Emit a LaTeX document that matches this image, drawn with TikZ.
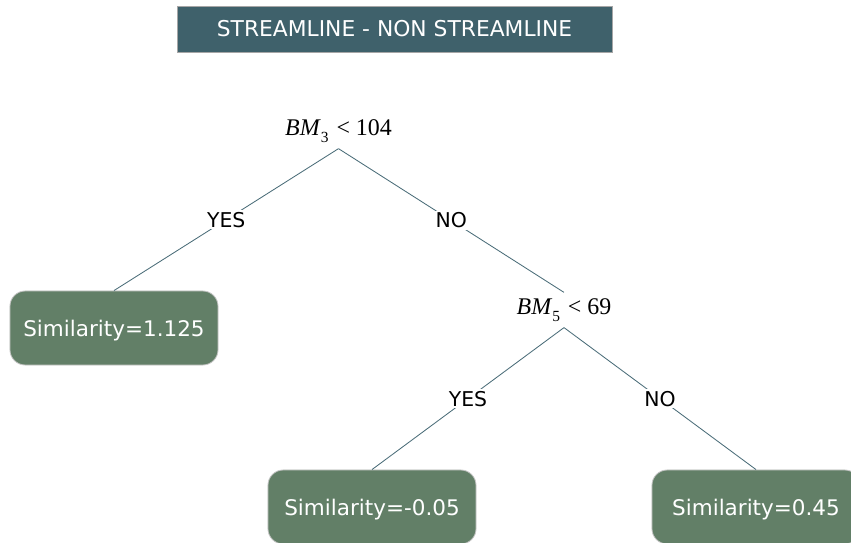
\documentclass[tikz,border=0pt]{standalone}
\usepackage{fontspec}
\setmainfont{DejaVu Sans}
\newfontfamily\tmsfont{Liberation Serif}
\usepackage{tikz}
\usetikzlibrary{positioning}
\definecolor{headblue}{HTML}{3F616B}
\definecolor{leafgreen}{HTML}{627F67}
\definecolor{edgeblue}{HTML}{4A6C78}
\tikzstyle{head}=[shape=rectangle, draw=gray!70, fill=headblue, text=white, minimum width=10.875cm, minimum height=1.15cm, font=\fontsize{15.5}{17}\selectfont]
\tikzstyle{leaf}=[shape=rectangle, rounded corners=0.38cm, draw=gray!45, fill=leafgreen, text=white, text depth=0pt, minimum width=5.2cm, minimum height=1.85cm, font=\fontsize{15.3}{17}\selectfont]
\tikzstyle{test}=[inner xsep=1.5pt, inner ysep=4.2pt, font=\fontsize{17}{19}\selectfont\tmsfont]
\tikzstyle{ans}=[fill=white, inner sep=1pt, font=\fontsize{14.5}{16}\selectfont]
\newcommand{\bmtest}[2]{\textit{BM}\raisebox{-0.6ex}{\fontsize{11}{12}\selectfont #1}\,\,< #2}

\begin{document}
\begin{tikzpicture}[x=0.025cm,y=-0.025cm,line width=0.6pt]
\clip (0,0) rectangle (851,543);

\node (title) [head] at (394.5,29) {STREAMLINE - NON STREAMLINE};

\node (bm3) [test] at (338.5,131) {\bmtest{3}{104}};
\node (bm5) [test] at (564,310) {\bmtest{5}{69}};

\node (leaf1) [leaf] at (114,328) {Similarity=1.125};
\node (leaf2) [leaf] at (372,507) {Similarity=-0.05};
\node (leaf3) [leaf] at (756,507) {Similarity=0.45};

\draw[edgeblue] (bm3.south) -- node [ans,text=black] {YES} (leaf1.north);
\draw[edgeblue] (bm3.south) -- node [ans,text=black] {NO} (bm5.north);
\draw[edgeblue] (bm5.south) -- node [ans,text=black] {YES} (leaf2.north);
\draw[edgeblue] (bm5.south) -- node [ans,text=black] {NO} (leaf3.north);

\end{tikzpicture}
\end{document}
